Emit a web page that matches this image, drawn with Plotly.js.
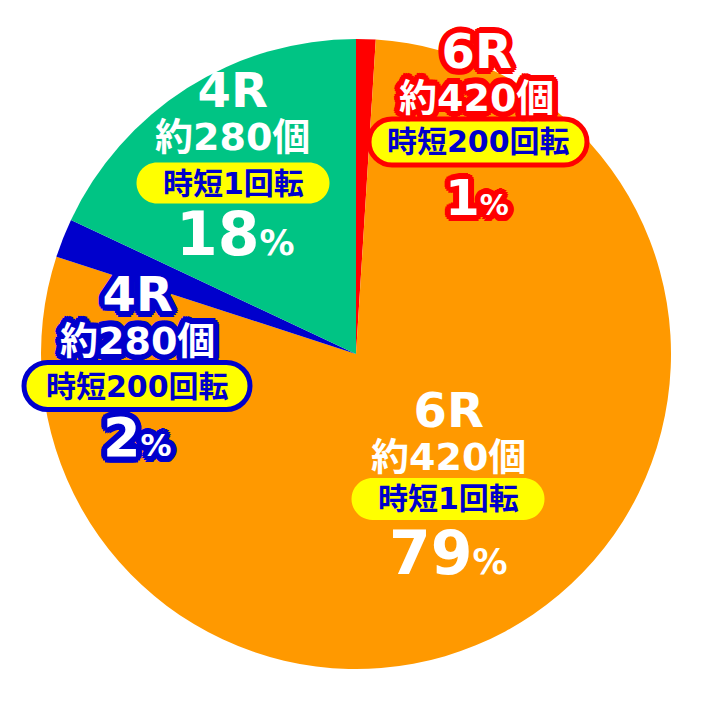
<!DOCTYPE html>
<html>
<head>
<meta charset="utf-8">
<script src="https://cdn.plot.ly/plotly-3.0.1.min.js"></script>
<style>
  html, body { margin: 0; padding: 0; background: white; }
  #chart { width: 712px; height: 710px; }
</style>
</head>
<body>
<div id="chart"></div>
<script>
// slice data, clockwise from 12 o'clock
const rounds = ['6R', '6R', '4R', '4R'];
const balls = ['約420個', '約420個', '約280個', '約280個'];
const jitan = ['時短200回転', '時短1回転', '時短200回転', '時短1回転'];
const values = [1, 79, 2, 18];
const colors = ['#ff0000', '#ff9900', '#0000cc', '#00c484'];

// label layout (pixel centres), per slice: head = "6R / 約420個" block
const W = 712, H = 710;
const px = x => x / W;
const py = y => 1 - y / H;

const labelPos = [
  { head: [476, 72], p: [478, 142], pct: [477, 198], pw: 218, ph: 46, big: 50, stroke: '#ff0000' },
  { head: [448, 430], p: [448, 499], pct: [448, 553], pw: 193, ph: 42, big: 60, stroke: null },
  { head: [137, 314], p: [137, 386], pct: [137, 438], pw: 226, ph: 47, big: 54, stroke: '#0000cc' },
  { head: [232, 110], p: [233, 183], pct: [235, 234], pw: 193, ph: 41, big: 60, stroke: null }
];

const family = '"DejaVu Sans", "Noto Sans CJK JP", sans-serif';
const pillText = '#0000cc';

// chunky outline made of stacked text shadows
function outline(color, r) {
  const parts = [];
  for (let a = 0; a < 360; a += 22.5) {
    const t = a * Math.PI / 180;
    parts.push(`${(r * Math.cos(t)).toFixed(1)}px ${(r * Math.sin(t)).toFixed(1)}px 0 ${color}`);
    parts.push(`${(r * 0.55 * Math.cos(t)).toFixed(1)}px ${(r * 0.55 * Math.sin(t)).toFixed(1)}px 0 ${color}`);
  }
  return parts.join(', ');
}

// rounded pill outline as a paper-coordinate path
function pill(cx, cy, w, h) {
  const rad = h / 2, k = 0.5523 * rad;
  const x0 = cx - w / 2 + rad, x1 = cx + w / 2 - rad;
  const y0 = cy - rad, y1 = cy + rad;
  const P = (x, y) => `${px(x).toFixed(5)},${py(y).toFixed(5)}`;
  return `M${P(x0, y0)} L${P(x1, y0)} ` +
    `C${P(x1 + k, y0)} ${P(x1 + rad, cy - k)} ${P(x1 + rad, cy)} ` +
    `C${P(x1 + rad, cy + k)} ${P(x1 + k, y1)} ${P(x1, y1)} ` +
    `L${P(x0, y1)} ` +
    `C${P(x0 - k, y1)} ${P(x0 - rad, cy + k)} ${P(x0 - rad, cy)} ` +
    `C${P(x0 - rad, cy - k)} ${P(x0 - k, y0)} ${P(x0, y0)} Z`;
}

const shapes = [];
const annotations = [];

values.forEach((v, i) => {
  const L = labelPos[i];
  const shadow = L.stroke ? outline(L.stroke, 6) : 'none';
  const white = (size) => ({ family, size, color: 'white', weight: 'bold', shadow });
  const anno = (pos, text, font) => ({
    x: px(pos[0]), y: py(pos[1]), xref: 'paper', yref: 'paper',
    xanchor: 'center', yanchor: 'middle', showarrow: false, text, font
  });

  // base size 33 sets the line spacing (1.3em ~ 43px)
  const head = `<span style="font-size:48px">${rounds[i]}</span><br>` +
    `<span style="font-size:38px">${balls[i]}</span>`;
  annotations.push(anno(L.head, head, white(33)));
  annotations.push(anno(L.p, jitan[i], { family, size: 30, color: pillText, weight: 'bold' }));
  const small = Math.round(L.big * 0.58);
  annotations.push(anno(L.pct, `${v}<span style="font-size:${small}px">%</span>`, white(L.big)));

  shapes.push({
    type: 'path', xref: 'paper', yref: 'paper', layer: 'above',
    path: pill(L.p[0], L.p[1], L.pw, L.ph),
    fillcolor: '#ffff00',
    line: L.stroke ? { color: L.stroke, width: 5 } : { width: 0 }
  });
});

const trace = {
  type: 'pie',
  values: values,
  labels: jitan.map((j, i) => `${rounds[i]} ${balls[i]} ${j}`),
  marker: { colors: colors, line: { width: 0 } },
  sort: false,
  direction: 'clockwise',
  rotation: 0,
  textinfo: 'none',
  hoverinfo: 'none',
  showlegend: false,
  domain: { x: [px(41), px(671)], y: [py(669), py(39)] }
};

const layout = {
  width: W,
  height: H,
  margin: { t: 0, l: 0, r: 0, b: 0 },
  paper_bgcolor: 'white',
  plot_bgcolor: 'white',
  showlegend: false,
  shapes: shapes,
  annotations: annotations
};

Plotly.newPlot('chart', [trace], layout, { displayModeBar: false, staticPlot: true });
</script>
</body>
</html>
